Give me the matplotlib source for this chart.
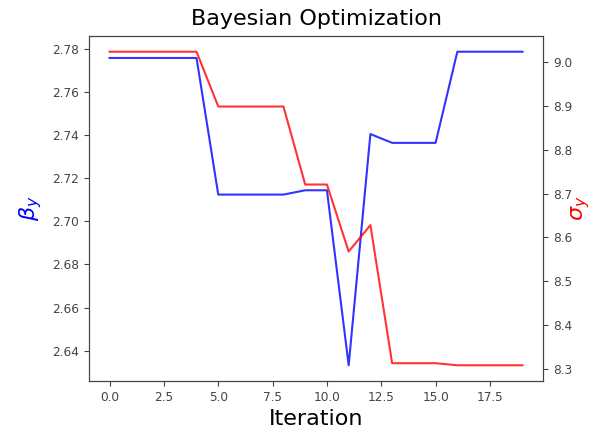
import matplotlib
matplotlib.use("Agg")
import matplotlib.pyplot as plt

# optimizer trace per iteration
iterations = list(range(20))
beta_y = [2.7758, 2.7758, 2.7758, 2.7758, 2.7758,
          2.7124, 2.7124, 2.7124, 2.7124, 2.7144,
          2.7144, 2.6332, 2.7405, 2.7364, 2.7364,
          2.7364, 2.7787, 2.7787, 2.7787, 2.7787]
sigma_y = [9.0228, 9.0228, 9.0228, 9.0228, 9.0228,
           8.898, 8.898, 8.898, 8.898, 8.7205,
           8.7205, 8.568, 8.628, 8.3137, 8.3137,
           8.3137, 8.309, 8.309, 8.309, 8.309]

fig = plt.figure(figsize=(5.93, 4.29), dpi=100)
ax1 = fig.add_axes([0.150, 0.112, 0.766, 0.804])
ax2 = ax1.twinx()

ax1.plot(iterations, beta_y, color='blue', alpha=0.8, lw=1.5)
ax2.plot(iterations, sigma_y, color='red', alpha=0.8, lw=1.5)

ax1.set_title("Bayesian Optimization", fontsize=16, pad=8)
ax1.set_xlabel("Iteration", fontsize=16)
ax1.set_ylabel(r"$\beta_y$", color='blue', fontsize=16, labelpad=6)
ax2.set_ylabel(r"$\sigma_y$", color='red', fontsize=16, labelpad=-2)

for ax in (ax1, ax2):
    ax.tick_params(labelsize=8.7, labelcolor='#444444', color='#444444')
    for sp in ax.spines.values():
        sp.set_color('#444444')

fig.savefig("out.png", dpi=100)
